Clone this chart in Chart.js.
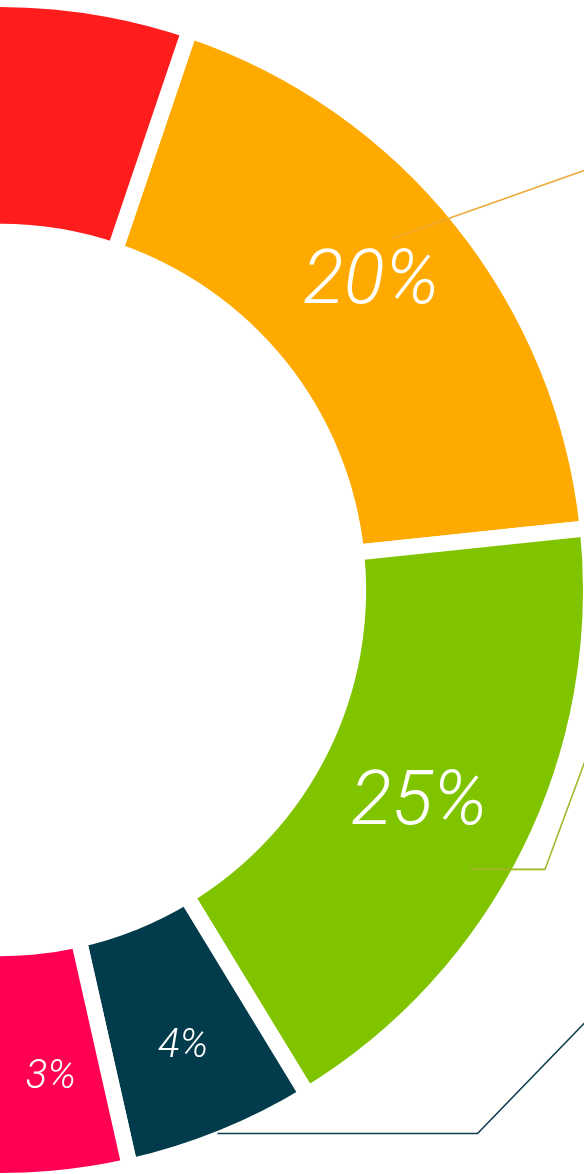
<!DOCTYPE html>
<html>
<head>
<meta charset="utf-8">
<script src="https://cdn.jsdelivr.net/npm/chart.js@4.4.1/dist/chart.umd.min.js"></script>
<style>
  html, body { margin: 0; padding: 0; width: 584px; height: 1174px; overflow: hidden; background: #ffffff; }
  #wrap { position: absolute; left: -600px; top: -10px; width: 1200px; height: 1200px; }
</style>
</head>
<body>
<div id="wrap"><canvas id="c" width="1200" height="1200"></canvas></div>
<script>
// ---- data (shares of the ring) ----
const categories = ['Orange', 'Green', 'Teal', 'Pink', 'Red'];
const values = [18.14, 17.96, 5.18, 4.22, 54.50];
const pctLabels = ['20%', '25%', '4%', '3%', ''];
const colors = ['#FFAA00', '#80C400', '#023B4B', '#FF0052', '#FF1C1C'];

const labelPlugin = {
  id: 'segLabels',
  afterDatasetsDraw(chart, args, opts) {
    const meta = chart.getDatasetMeta(0);
    const ctx = chart.ctx;
    ctx.save();
    meta.data.forEach((arc, i) => {
      const p = arc.getProps(['x', 'y', 'startAngle', 'endAngle', 'innerRadius', 'outerRadius'], true);
      const mid = (p.startAngle + p.endAngle) / 2;
      // leader lines
      const ld = opts.leaders.find(l => l.index === i);
      if (ld) {
        const a = mid + ld.dAngle * Math.PI / 180;
        const r = p.innerRadius + (p.outerRadius - p.innerRadius) * ld.rFrac;
        let px = p.x + Math.cos(a) * r, py = p.y + Math.sin(a) * r;
        ctx.beginPath();
        ctx.moveTo(px, py);
        ld.path.forEach(([dx, dy]) => { px += dx; py += dy; ctx.lineTo(px, py); });
        ctx.strokeStyle = ld.color;
        ctx.lineWidth = 1.6;
        ctx.lineJoin = 'miter';
        ctx.stroke();
      }
      const txt = pctLabels[i];
      if (!txt) return;
      const size = opts.sizes[i];
      const a = mid + opts.dAngle[i] * Math.PI / 180;
      const r = p.innerRadius + (p.outerRadius - p.innerRadius) * opts.rFrac[i];
      const cx = p.x + Math.cos(a) * r;
      const cy = p.y + Math.sin(a) * r;
      ctx.font = 'italic 300 ' + size + 'px Roboto, Lato, "Open Sans", sans-serif';
      ctx.fillStyle = '#ffffff';
      ctx.textAlign = 'center';
      ctx.textBaseline = 'alphabetic';
      ctx.fillText(txt, cx, cy + size * 0.355);
    });
    ctx.restore();
  }
};

new Chart(document.getElementById('c'), {
  type: 'doughnut',
  data: {
    labels: categories,
    datasets: [{
      data: values,
      backgroundColor: colors,
      borderColor: '#ffffff',
      borderWidth: 16,
      borderJoinStyle: 'miter',
      hoverOffset: 0
    }]
  },
  options: {
    responsive: false,
    animation: false,
    events: [],
    rotation: 18.7,
    cutout: '60.6%',
    layout: { padding: 1 },
    plugins: {
      legend: { display: false },
      tooltip: { enabled: false },
      segLabels: {
        sizes: [76, 76, 40, 40, 40],
        rFrac: [0.55, 0.47, 0.56, 0.55, 0.55],
        dAngle: [-1.6, 0, 0, -0.9, 0],
        leaders: [
          { index: 0, color: 'rgba(236,164,52,0.95)', dAngle: -3.2, rFrac: 0.726, path: [[260, -92]] },
          { index: 1, color: '#A3B62A', dAngle: 4.4, rFrac: 0.81, path: [[75, 0], [45, -122]] },
          { index: 2, color: '#0E3D4C', dAngle: 0.2, rFrac: 0.976, path: [[260, 0], [120, -124]] }
        ]
      }
    }
  },
  plugins: [labelPlugin]
});
</script>
</body>
</html>
